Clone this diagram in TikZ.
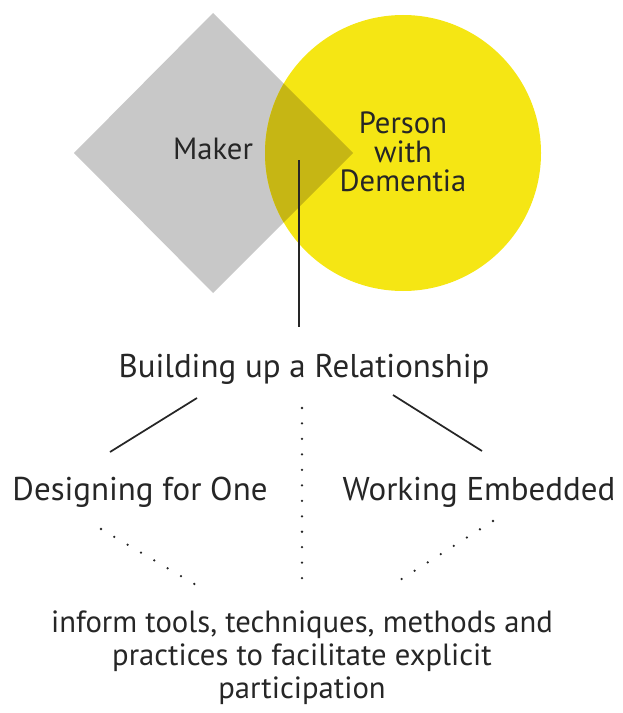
\documentclass[tikz,border=0pt]{standalone}
\usepackage{fontspec}
\setmainfont{PT Sans}
\usetikzlibrary{positioning}

\definecolor{makergrey}{HTML}{C8C8C8}
\definecolor{pwdyellow}{HTML}{F5E614}
\definecolor{overlapolive}{HTML}{C6B614}

\begin{document}
\begin{tikzpicture}[
    x=0.75pt, y=-0.75pt,
    every node/.style={inner sep=0pt, text=black!85},
    toptext/.style={font=\fontsize{23}{21.4}\selectfont},
    bigtext/.style={font=\fontsize{24.7}{26}\selectfont},
    smalltext/.style={font=\fontsize{23}{24.4}\selectfont, align=center},
    link/.style={line width=1.3pt, black!85},
    dotlink/.style={line width=1.9pt, black!85, line cap=round,
        dash pattern=on 0pt off 11.6pt},
]
\useasboundingbox (0,0) rectangle (622,713);

% Parameters
\def\Rcirc{138}

% === Maker (diamond) and Person with Dementia (circle) ===
\fill[makergrey] (74,153) -- (213,13) -- (353,153) -- (213,293) -- cycle;
\fill[pwdyellow] (403,153) circle (\Rcirc);
\begin{scope}
    \clip (403,153) circle (\Rcirc);
    \fill[overlapolive] (74,153) -- (213,13) -- (353,153) -- (213,293) -- cycle;
\end{scope}

\node[toptext, anchor=base] (maker) at (213,160) {Maker};
\node[toptext, align=center, anchor=base] (pwd) at (403,191) {Person\\with\\Dementia};

% === Relationship level ===
\node[bigtext, anchor=base] (build) at (304,377) {Building up a Relationship};
\node[bigtext, anchor=base] (design) at (140,500) {Designing for One};
\node[bigtext, anchor=base] (embed) at (479,500) {Working Embedded};

% === Outcome ===
% (base of a multi-line node sits on its last line)
\node[smalltext, anchor=base] (inform) at (302,698)
    {inform tools, techniques, methods and\\practices to facilitate explicit\\participation};

% Connector ends
\coordinate (stemtop) at (299,160);
\coordinate (stembot) at (299,327);
\coordinate (lefttop) at (197,398);
\coordinate (leftbot) at (110,452);
\coordinate (righttop) at (393,395);
\coordinate (rightbot) at (482,451);
\coordinate (midtop) at (302,408);
\coordinate (midbot) at (302,582);
\coordinate (ldtop) at (101,529);
\coordinate (ldbot) at (196,585);
\coordinate (rdtop) at (493,521);
\coordinate (rdbot) at (389,587);

% Solid links
\draw[link] (stemtop) -- (stembot);
\draw[link] (lefttop) -- (leftbot);
\draw[link] (righttop) -- (rightbot);

% Dotted links
\draw[dotlink] (midtop) -- (midbot);
\draw[dotlink] (ldtop) -- (ldbot);
\draw[dotlink] (rdtop) -- (rdbot);

\end{tikzpicture}
\end{document}
